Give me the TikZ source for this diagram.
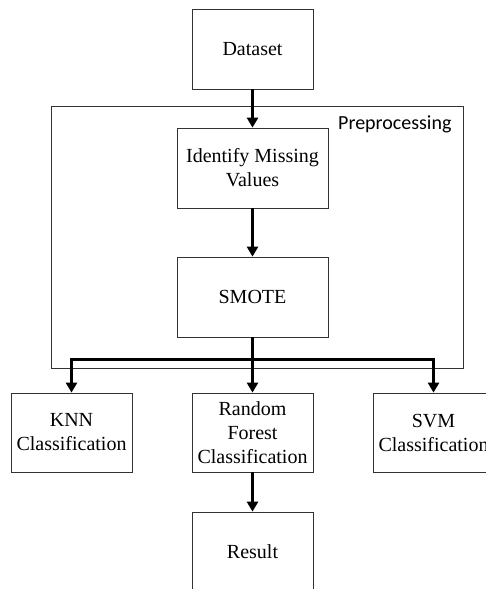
\documentclass[tikz,border=0pt]{standalone}
\usepackage{fontspec}
\setmainfont{Liberation Serif}
\newfontfamily\prepfont{Carlito}
\usetikzlibrary{arrows.meta}
\begin{document}
\begin{tikzpicture}[x=1pt,y=-1pt,
  box/.style={draw=black!80,line width=0.8pt,minimum width=121pt,minimum height=80pt,inner sep=0pt,align=center,font=\fontsize{20}{24}\selectfont},
  wbox/.style={box,minimum width=151pt},
  arr/.style={line width=3pt,-{Triangle[width=11pt,length=10pt]}},
  bar/.style={line width=3pt}]
\useasboundingbox (0,0) rectangle (486,589);
\clip (0,0) rectangle (486,589);
\draw[draw=black!80,line width=0.8pt] (51,106) rectangle (463,368);
\node[anchor=base east,font=\prepfont\fontsize{20}{24}\selectfont] (prep) at (455,129) {Preprocessing};
\node[box] (data) at (252.5,49) {Dataset};
\node[wbox] (ident) at (252.5,168) {Identify Missing\\Values};
\node[wbox] (smote) at (252.5,297) {SMOTE};
\node[box,minimum height=79pt] (knn) at (71.5,432.5) {KNN\\Classification};
\node[box,minimum height=79pt] (rf) at (252.5,432.5) {Random\\Forest\\Classification};
\node[box,minimum height=79pt] (svm) at (433.5,432.5) {SVM\\Classification};
\node[box] (res) at (252.5,552) {Result};
\coordinate (bus) at (252.5,359);
\draw[arr] (data.south) -- (ident.north);
\draw[arr] (ident.south) -- (smote.north);
\draw[bar] (smote.south) -- (bus);
\draw[arr] (bus) -| (knn.north);
\draw[arr] (bus) -| (svm.north);
\draw[arr] (bus) -- (rf.north);
\draw[arr] (rf.south) -- (res.north);
\end{tikzpicture}
\end{document}
